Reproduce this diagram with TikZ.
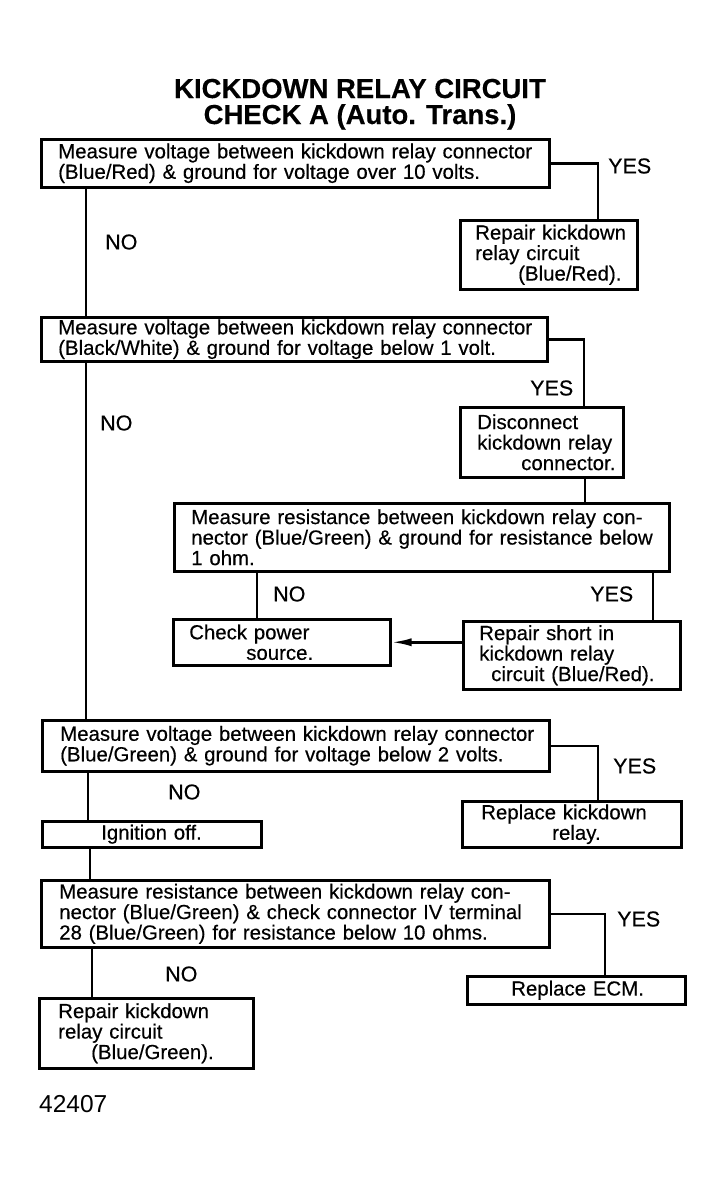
\documentclass[tikz,border=0pt]{standalone}
\usepackage{fontspec}
\setmainfont{Liberation Sans}[FakeBold=0.35]
\newfontfamily\plainfont{Liberation Sans}
\usetikzlibrary{arrows.meta}
\newcommand{\ind}[1]{\hspace*{#1pt}}
\newcommand{\jline}[2]{\makebox[#1pt][s]{#2}}
\begin{document}
\begin{tikzpicture}[x=1pt,y=-1pt,
  box/.style={draw, line width=2.5pt, anchor=north west, inner xsep=0pt, inner ysep=0pt,
              align=left, font=\fontsize{20.4}{20.5}\selectfont},
  wire/.style={line width=2.5pt},
  lab/.style={font=\fontsize{21.5}{22}\selectfont, inner sep=0pt, anchor=west},
  ttl/.style={font=\fontsize{27.5}{30}\selectfont\bfseries, inner sep=0pt, anchor=base},
  tip/.style={-{Latex[length=20pt,width=8pt]}}]
\useasboundingbox[fill=white] (0,0) rectangle (723,1187);

\node[ttl] (t1) at (360,98) {KICKDOWN RELAY CIRCUIT};
\node[ttl] (t2) at (360,124) {CHECK A (Auto. Trans.)};

\node[box, minimum width=508pt, minimum height=48pt, text width=508pt] (b1) at (40,138)
  {\ind{17}Measure voltage between kickdown relay connector\\
   \ind{17}(Blue/Red) \& ground for voltage over 10 volts.};
\node[box, minimum width=177pt, minimum height=69pt, text width=177pt] (b2) at (459,219)
  {\ind{15}Repair kickdown\\ \ind{15}relay circuit\\ \ind{58}(Blue/Red).};
\node[box, minimum width=506pt, minimum height=44pt, text width=506pt] (b3) at (40,316)
  {\ind{17}Measure voltage between kickdown relay connector\\
   \ind{17}(Black/White) \& ground for voltage below 1 volt.};
\node[box, minimum width=163pt, minimum height=70pt, text width=163pt] (b4) at (459,406)
  {\ind{17}Disconnect\\ \ind{17}kickdown relay\\ \ind{61}connector.};
\node[box, minimum width=495pt, minimum height=68pt, text width=495pt] (b5) at (173,502)
  {\ind{17}\jline{470}{Measure resistance between kickdown relay con-}\\
   \ind{17}\jline{470}{nector (Blue/Green) \& ground for resistance below}\\
   \ind{17}1 ohm.};
\node[box, minimum width=217pt, minimum height=46pt, text width=217pt] (b6) at (172,618)
  {\ind{16}Check power\\ \ind{73}source.};
\node[box, minimum width=217pt, minimum height=68pt, text width=217pt] (b7) at (462,620)
  {\ind{16}Repair short in\\ \ind{16}kickdown relay\\ \ind{28}circuit (Blue/Red).};
\node[box, minimum width=507pt, minimum height=51pt, text width=507pt] (b8) at (41,719)
  {\ind{18}Measure voltage between kickdown relay connector\\
   \ind{18}(Blue/Green) \& ground for voltage below 2 volts.};
\node[box, minimum width=219pt, minimum height=46pt, text width=219pt] (b9) at (461,800)
  {\ind{19}Replace kickdown\\ \ind{90}relay.};
\node[box, minimum width=219pt, minimum height=26pt, text width=219pt] (b10) at (41,820)
  {\ind{59}Ignition off.};
\node[box, minimum width=508pt, minimum height=67pt, text width=508pt] (b11) at (40,879)
  {\ind{18}\jline{472}{Measure resistance between kickdown relay con-}\\
   \ind{18}\jline{472}{nector (Blue/Green) \& check connector IV terminal}\\
   \ind{18}28 (Blue/Green) for resistance below 10 ohms.};
\node[box, minimum width=218pt, minimum height=28pt, text width=218pt] (b12) at (466,975)
  {\ind{44}Replace ECM.};
\node[box, minimum width=214pt, minimum height=70pt, text width=214pt] (b13) at (38,997)
  {\ind{19}Repair kickdown\\ \ind{19}relay circuit\\ \ind{52}(Blue/Green).};

\node[lab] (y1) at (608,166) {YES};
\node[lab] (n1) at (105,242) {NO};
\node[lab] (y2) at (530,388) {YES};
\node[lab] (n2) at (100,423) {NO};
\node[lab] (n3) at (273,594) {NO};
\node[lab] (y3) at (590,594) {YES};
\node[lab] (y4) at (613,766) {YES};
\node[lab] (n4) at (168,792) {NO};
\node[lab] (y5) at (617,919) {YES};
\node[lab] (n5) at (165,974) {NO};
\node[anchor=west, inner sep=0pt, font=\plainfont\fontsize{24.5}{26}\selectfont] (num) at (39,1104) {42407};

\draw[wire] (b1.east) -| ([xshift=139pt]b2.north west);
\draw[wire] ([xshift=46pt]b1.south west) -- ([xshift=46pt]b3.north west);
\draw[wire] (b3.east) -| ([xshift=125pt]b4.north west);
\draw[wire] ([xshift=126pt]b4.south west) -- ([xshift=412pt]b5.north west);
\draw[wire] ([xshift=46pt]b3.south west) -- ([xshift=45pt]b8.north west);
\draw[wire] ([xshift=84pt]b5.south west) -- ([xshift=85pt]b6.north west);
\draw[wire] ([xshift=480pt]b5.south west) -- ([xshift=191pt]b7.north west);
\draw[wire, tip] (b7.west |- b6.east) -- (b6.east);
\draw[wire] (b8.east) -| ([xshift=137pt]b9.north west);
\draw[wire] ([xshift=47pt]b8.south west) -- ([xshift=47pt]b10.north west);
\draw[wire] ([xshift=49pt]b10.south west) -- ([xshift=50pt]b11.north west);
\draw[wire] (b11.east) -| ([xshift=139pt]b12.north west);
\draw[wire] ([xshift=52pt]b11.south west) -- ([xshift=54pt]b13.north west);
\end{tikzpicture}
\end{document}
